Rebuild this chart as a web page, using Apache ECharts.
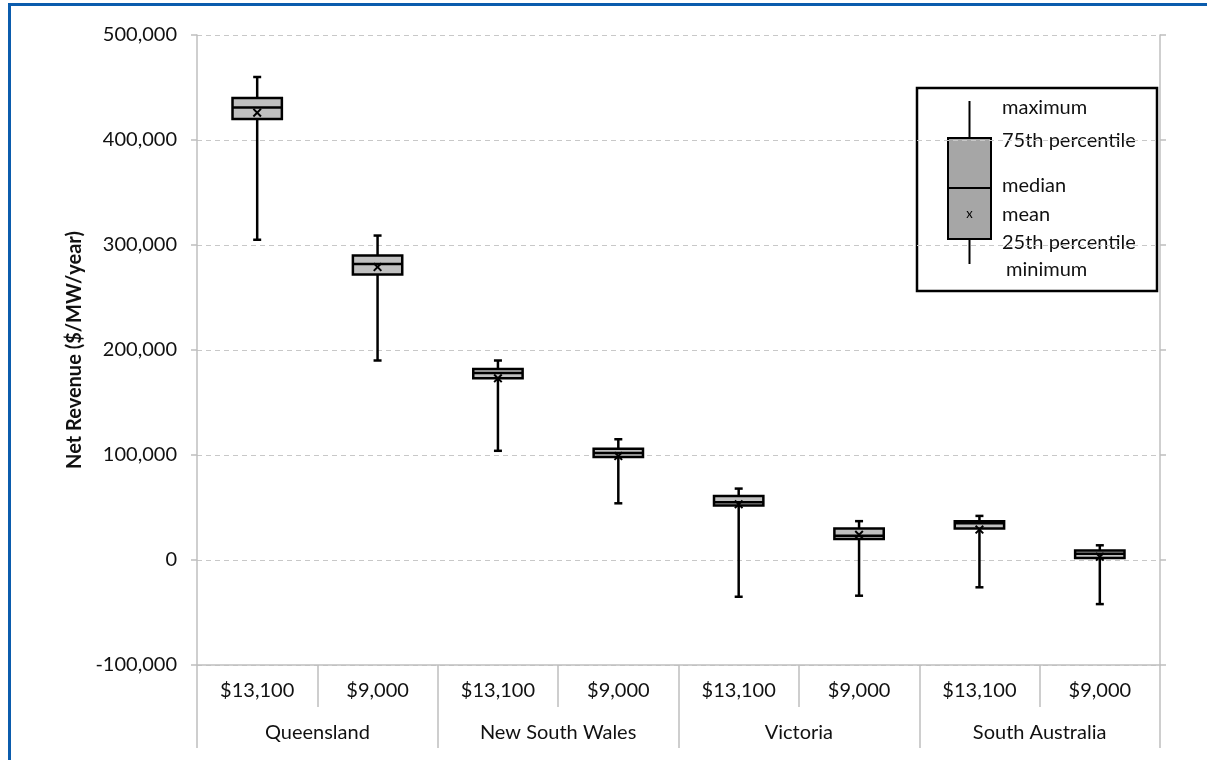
<!DOCTYPE html>
<html>
<head>
<meta charset="utf-8">
<script src="https://cdn.jsdelivr.net/npm/echarts@6/dist/echarts.min.js"></script>
<style>
  html, body { margin: 0; padding: 0; background: #fff; }
  #chart { width: 1207px; height: 760px; }
</style>
</head>
<body>
<div id="chart"></div>
<script>
// Capital cost scenarios within each region
const capitalCosts = ['$13,100', '$9,000', '$13,100', '$9,000', '$13,100', '$9,000', '$13,100', '$9,000'];
const regions = ['Queensland', 'New South Wales', 'Victoria', 'South Australia'];

// Net revenue distribution ($/MW/year) for each region / capital cost pair
const minima  = [305000, 190000, 104000,  54000, -35000, -34000, -26000, -42000];
const q1      = [420000, 272000, 173000,  98000,  52000,  20000,  30000,   2000];
const medians = [431000, 282000, 178000, 102000,  55000,  23000,  35000,   6000];
const q3      = [440000, 290000, 182000, 106000,  61000,  30000,  37000,   9000];
const maxima  = [460000, 309000, 190000, 115000,  68000,  37000,  42000,  14000];
const means   = [426000, 279000, 173000,  99000,  53000,  24000,  29000,   3000];

// Y axis ticks
const yMin = -100000, yMax = 500000, yStep = 100000;

const boxData = capitalCosts.map((_, i) => [i, minima[i], q1[i], medians[i], q3[i], maxima[i], means[i]]);

const FONT = 'Lato, "Open Sans", sans-serif';
const TEXT = '#111';
const AXIS_GRAY = '#bfbfbf';

function renderBox(params, api) {
  const x = api.value(0);
  const pMin = api.coord([x, api.value(1)]);
  const pQ1 = api.coord([x, api.value(2)]);
  const pMed = api.coord([x, api.value(3)]);
  const pQ3 = api.coord([x, api.value(4)]);
  const pMax = api.coord([x, api.value(5)]);
  const pMean = api.coord([x, api.value(6)]);
  const band = api.size([1, 0])[0];
  const half = band * 0.205;
  const cap = 4;
  const cx = pMin[0];
  const ink = { stroke: '#000', lineWidth: 2.5 };
  const m = 3.8;
  return {
    type: 'group',
    children: [
      { type: 'line', shape: { x1: cx, y1: pMax[1], x2: cx, y2: pMin[1] }, style: ink },
      { type: 'line', shape: { x1: cx - cap, y1: pMax[1], x2: cx + cap, y2: pMax[1] }, style: ink },
      { type: 'line', shape: { x1: cx - cap, y1: pMin[1], x2: cx + cap, y2: pMin[1] }, style: ink },
      { type: 'rect', shape: { x: cx - half, y: pQ3[1], width: half * 2, height: pQ1[1] - pQ3[1] },
        style: { fill: '#c0c0c0', stroke: '#000', lineWidth: 2.5 } },
      { type: 'line', shape: { x1: cx - half, y1: pMed[1], x2: cx + half, y2: pMed[1] }, style: ink },
      { type: 'line', shape: { x1: cx - m, y1: pMean[1] - m, x2: cx + m, y2: pMean[1] + m }, style: { stroke: '#000', lineWidth: 2 } },
      { type: 'line', shape: { x1: cx - m, y1: pMean[1] + m, x2: cx + m, y2: pMean[1] - m }, style: { stroke: '#000', lineWidth: 2 } }
    ]
  };
}

// Explanatory key for the box symbols
const keyX = 917, keyY = 88;
const keyText = (text, x, y) => ({
  type: 'text', x, y,
  style: { text, font: '20px ' + FONT, fill: TEXT, textAlign: 'left', textVerticalAlign: 'middle' }
});
const keyGraphic = {
  type: 'group',
  children: [
    { type: 'rect', shape: { x: keyX, y: keyY, width: 240, height: 203 },
      style: { fill: '#fff', stroke: '#000', lineWidth: 2.5 } },
    { type: 'line', shape: { x1: 969.5, y1: 101, x2: 969.5, y2: 138 }, style: { stroke: '#000', lineWidth: 2 } },
    { type: 'line', shape: { x1: 969.5, y1: 239, x2: 969.5, y2: 264 }, style: { stroke: '#000', lineWidth: 2 } },
    { type: 'rect', shape: { x: 948, y: 138, width: 43, height: 101 },
      style: { fill: '#a6a6a6', stroke: '#000', lineWidth: 2 } },
    { type: 'line', shape: { x1: 948, y1: 188, x2: 991, y2: 188 }, style: { stroke: '#000', lineWidth: 2 } },
    { type: 'text', x: 969.5, y: 214,
      style: { text: 'x', font: '13px ' + FONT, fill: '#000', textAlign: 'center', textVerticalAlign: 'middle' } },
    keyText('maximum', 1002, 108),
    keyText('75th percentile', 1002, 141),
    keyText('median', 1002, 186),
    keyText('mean', 1002, 215),
    keyText('25th percentile', 1002, 243),
    keyText('minimum', 1006, 270)
  ]
};

const chart = echarts.init(document.getElementById('chart'));
chart.setOption({
  animation: false,
  backgroundColor: '#fff',
  grid: { left: 197, right: 47, top: 35, bottom: 95, containLabel: false },
  xAxis: [
    {
      type: 'category',
      data: capitalCosts,
      position: 'bottom',
      axisLine: { show: true, onZero: false, lineStyle: { color: AXIS_GRAY, width: 1.5 } },
      axisTick: { show: true, length: 42, lineStyle: { color: AXIS_GRAY, width: 1.5 } },
      axisLabel: { margin: 16, fontSize: 20, fontFamily: FONT, color: TEXT },
      splitLine: { show: false }
    },
    {
      type: 'category',
      data: regions,
      position: 'bottom',
      axisLine: { show: false, onZero: false },
      axisTick: { show: true, length: 83, lineStyle: { color: AXIS_GRAY, width: 1.5 } },
      axisLabel: { margin: 58, fontSize: 20, fontFamily: FONT, color: TEXT },
      splitLine: { show: false }
    }
  ],
  yAxis: [
    {
      type: 'value',
      min: yMin, max: yMax, interval: yStep,
      position: 'left',
      name: 'Net Revenue ($/MW/year)',
      nameLocation: 'middle',
      nameRotate: 90,
      nameGap: 96,
      nameTextStyle: { fontSize: 20, fontWeight: 'bold', fontFamily: FONT, color: TEXT },
      axisLine: { show: true, lineStyle: { color: AXIS_GRAY, width: 1.5 } },
      axisTick: { show: true, length: 6, lineStyle: { color: AXIS_GRAY, width: 1.5 } },
      axisLabel: {
        margin: 20, fontSize: 20, fontFamily: FONT, color: TEXT,
        formatter: v => v.toLocaleString('en-US')
      },
      splitLine: { show: true, lineStyle: { color: '#c8c8c8', type: [5, 4], width: 1 } }
    },
    {
      type: 'value',
      min: yMin, max: yMax, interval: yStep,
      position: 'right',
      axisLine: { show: true, lineStyle: { color: AXIS_GRAY, width: 1.5 } },
      axisTick: { show: true, length: 6, lineStyle: { color: AXIS_GRAY, width: 1.5 } },
      axisLabel: { show: false },
      splitLine: { show: false }
    }
  ],
  series: [
    {
      type: 'custom',
      xAxisIndex: 0,
      yAxisIndex: 0,
      data: boxData,
      encode: { x: 0, y: [1, 2, 3, 4, 5, 6] },
      renderItem: renderBox,
      z: 5
    }
  ],
  graphic: [
    keyGraphic,
    { type: 'rect', z: 100, silent: true,
      shape: { x: 9.5, y: 4.5, width: 1400, height: 1000 },
      style: { fill: null, stroke: '#0b5cad', lineWidth: 3 } }
  ]
});
</script>
</body>
</html>
